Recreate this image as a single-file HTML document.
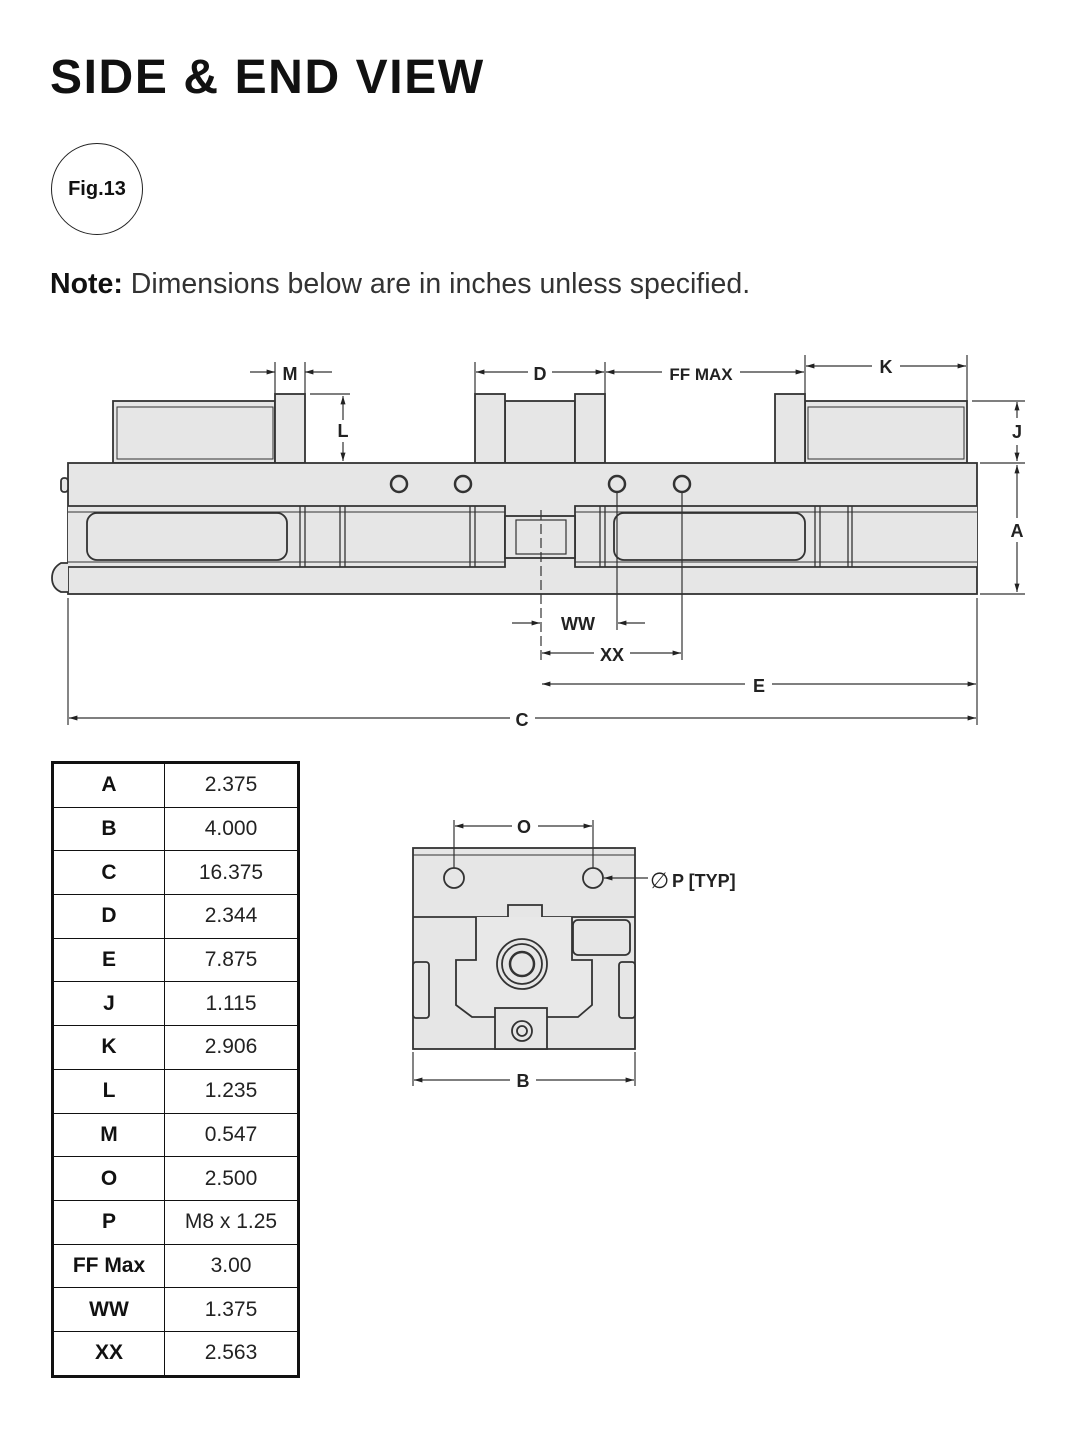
<!DOCTYPE html>
<html><head><meta charset="utf-8"><style>
body{margin:0;background:#fff;}
.wrap{position:relative;width:1067px;height:1440px;overflow:hidden;font-family:"Liberation Sans",sans-serif;}
h1{position:absolute;left:50px;top:50px;margin:0;font-size:48px;font-weight:bold;letter-spacing:1.6px;color:#111;}
.fig{position:absolute;left:51px;top:143px;width:90px;height:90px;border:1.5px solid #222;border-radius:50%;text-align:center;line-height:90px;font-size:20px;font-weight:bold;color:#111;}
.note{position:absolute;left:50px;top:268px;font-size:28.5px;color:#333;}
.note b{color:#111;}
table{position:absolute;left:51px;top:761px;border-collapse:collapse;border:3px solid #111;}
td{border:1.5px solid #111;height:42.7px;padding:0;text-align:center;font-size:21px;color:#222;}
td:first-child{width:110px;font-weight:bold;color:#111;}
td:last-child{width:132px;}
svg{position:absolute;left:0;top:0;}
</style></head><body><div class="wrap">
<h1>SIDE &amp; END VIEW</h1>
<div class="fig">Fig.13</div>
<div class="note"><b>Note:</b> Dimensions below are in inches unless specified.</div>
<svg width="1067" height="1440" viewBox="0 0 1067 1440">
<defs><marker id="a" viewBox="0 0 10 10" refX="10" refY="5" markerWidth="9" markerHeight="7" orient="auto-start-reverse"><path d="M0,2 L10,5 L0,8 z" fill="#222"/></marker></defs>
<g fill="#e6e6e6" stroke="#333" stroke-width="1.8">
<rect x="113" y="401" width="162" height="62"/><rect x="117" y="407" width="156" height="52" fill="none" stroke-width="1"/>
<rect x="275" y="394" width="30" height="69"/>
<rect x="505" y="401" width="70" height="62"/>
<rect x="475" y="394" width="30" height="69"/><rect x="575" y="394" width="30" height="69"/>
<rect x="805" y="401" width="162" height="62"/><rect x="808" y="407" width="156" height="52" fill="none" stroke-width="1"/>
<rect x="775" y="394" width="30" height="69"/>
<rect x="68" y="463" width="909" height="131"/>
<rect x="61" y="478" width="7" height="14" rx="3"/>
<path d="M68,563 L61,563 Q52,568 52,578 Q52,588 61,592 L68,592"/>
<path d="M68,506 H505 V567 H68" fill="#e6e6e6"/>
<path d="M977,506 H575 V567 H977" fill="#e6e6e6"/>
<line x1="68" y1="512" x2="505" y2="512" stroke-width="1"/><line x1="68" y1="562" x2="505" y2="562" stroke-width="1"/>
<line x1="575" y1="512" x2="977" y2="512" stroke-width="1"/><line x1="575" y1="562" x2="977" y2="562" stroke-width="1"/>
<rect x="87" y="513" width="200" height="47" rx="10"/>
<rect x="614" y="513" width="191" height="47" rx="10"/>
<g stroke-width="1.3"><line x1="300" y1="506" x2="300" y2="567"/><line x1="305" y1="506" x2="305" y2="567"/>
<line x1="340" y1="506" x2="340" y2="567"/><line x1="345" y1="506" x2="345" y2="567"/>
<line x1="470" y1="506" x2="470" y2="567"/><line x1="475" y1="506" x2="475" y2="567"/>
<line x1="600" y1="506" x2="600" y2="567"/><line x1="605" y1="506" x2="605" y2="567"/>
<line x1="815" y1="506" x2="815" y2="567"/><line x1="820" y1="506" x2="820" y2="567"/>
<line x1="848" y1="506" x2="848" y2="567"/><line x1="852" y1="506" x2="852" y2="567"/></g>
<rect x="505" y="516" width="70" height="42"/><rect x="516" y="520" width="50" height="34" stroke-width="1.2"/>
<circle cx="399" cy="484" r="8" fill="none" stroke-width="2.5"/><circle cx="463" cy="484" r="8" fill="none" stroke-width="2.5"/>
<circle cx="617" cy="484" r="8" fill="none" stroke-width="2.5"/><circle cx="682" cy="484" r="8" fill="none" stroke-width="2.5"/>
</g>
<g stroke="#333" stroke-width="1.2" fill="none">
<line x1="541" y1="510" x2="541" y2="660" stroke-dasharray="10,4"/>
<line x1="275" y1="362" x2="275" y2="394"/><line x1="305" y1="362" x2="305" y2="394"/>
<line x1="310" y1="394" x2="350" y2="394"/>
<line x1="475" y1="362" x2="475" y2="394"/><line x1="605" y1="362" x2="605" y2="394"/>
<line x1="805" y1="355" x2="805" y2="394"/><line x1="967" y1="355" x2="967" y2="401"/>
<line x1="972" y1="401" x2="1025" y2="401"/><line x1="980" y1="463" x2="1025" y2="463"/><line x1="980" y1="594" x2="1025" y2="594"/>
<line x1="617" y1="492" x2="617" y2="630"/><line x1="682" y1="492" x2="682" y2="660"/>
<line x1="68" y1="598" x2="68" y2="725"/><line x1="977" y1="598" x2="977" y2="725"/>
<line x1="250" y1="372" x2="275" y2="372" marker-end="url(#a)"/><line x1="332" y1="372" x2="305" y2="372" marker-end="url(#a)"/>
<line x1="343" y1="420" x2="343" y2="396" marker-end="url(#a)"/><line x1="343" y1="442" x2="343" y2="461" marker-end="url(#a)"/>
<line x1="528" y1="372" x2="476" y2="372" marker-end="url(#a)"/><line x1="552" y1="372" x2="604" y2="372" marker-end="url(#a)"/>
<line x1="662" y1="372" x2="606" y2="372" marker-end="url(#a)"/><line x1="740" y1="372" x2="804" y2="372" marker-end="url(#a)"/>
<line x1="872" y1="366" x2="806" y2="366" marker-end="url(#a)"/><line x1="900" y1="366" x2="966" y2="366" marker-end="url(#a)"/>
<line x1="1017" y1="418" x2="1017" y2="402" marker-end="url(#a)"/><line x1="1017" y1="445" x2="1017" y2="461" marker-end="url(#a)"/>
<line x1="1017" y1="518" x2="1017" y2="465" marker-end="url(#a)"/><line x1="1017" y1="542" x2="1017" y2="592" marker-end="url(#a)"/>
<line x1="512" y1="623" x2="540" y2="623" marker-end="url(#a)"/><line x1="645" y1="623" x2="618" y2="623" marker-end="url(#a)"/>
<line x1="594" y1="653" x2="542" y2="653" marker-end="url(#a)"/><line x1="630" y1="653" x2="681" y2="653" marker-end="url(#a)"/>
<line x1="745" y1="684" x2="542" y2="684" marker-end="url(#a)"/><line x1="772" y1="684" x2="976" y2="684" marker-end="url(#a)"/>
<line x1="510" y1="718" x2="69" y2="718" marker-end="url(#a)"/><line x1="535" y1="718" x2="976" y2="718" marker-end="url(#a)"/>
</g>
<g font-family="Liberation Sans,sans-serif" font-weight="bold" font-size="18" fill="#222" text-anchor="middle">
<text x="290" y="380">M</text><text x="343" y="437">L</text><text x="540" y="380">D</text>
<text x="701" y="380" font-size="17">FF MAX</text><text x="886" y="373">K</text>
<text x="1017" y="438">J</text><text x="1017" y="537">A</text>
<text x="578" y="630">WW</text><text x="612" y="661">XX</text><text x="759" y="692">E</text><text x="522" y="726">C</text>
</g>
<g fill="#e6e6e6" stroke="#333" stroke-width="1.8">
<rect x="413" y="848" width="222" height="201"/>
<line x1="413" y1="855" x2="635" y2="855" stroke-width="1"/>
<line x1="413" y1="917" x2="635" y2="917"/>
<circle cx="454" cy="878" r="10"/><circle cx="593" cy="878" r="10"/>
<path d="M508,917 V905 H542 V917" />
<path d="M476,917 V960 H456 V1005 L472,1017 H578 L592,1005 V960 H572 V917" fill="#e8e8e8"/>
<rect x="573" y="920" width="57" height="35" rx="5"/>
<circle cx="522" cy="964" r="25"/><circle cx="522" cy="964" r="20"/><circle cx="522" cy="964" r="12" stroke-width="2.5"/>
<rect x="495" y="1008" width="52" height="41"/><circle cx="522" cy="1031" r="10"/><circle cx="522" cy="1031" r="5"/>
<rect x="413" y="962" width="16" height="56" rx="3"/><rect x="619" y="962" width="16" height="56" rx="3"/>
</g>
<g stroke="#333" stroke-width="1.2" fill="none">
<line x1="454" y1="820" x2="454" y2="868"/><line x1="593" y1="820" x2="593" y2="868"/>
<line x1="512" y1="826" x2="455" y2="826" marker-end="url(#a)"/><line x1="538" y1="826" x2="592" y2="826" marker-end="url(#a)"/>
<line x1="413" y1="1052" x2="413" y2="1086"/><line x1="635" y1="1052" x2="635" y2="1086"/>
<line x1="510" y1="1080" x2="414" y2="1080" marker-end="url(#a)"/><line x1="536" y1="1080" x2="634" y2="1080" marker-end="url(#a)"/>
<line x1="648" y1="878" x2="604" y2="878" marker-end="url(#a)"/>
</g>
<g font-family="Liberation Sans,sans-serif" font-weight="bold" font-size="18" fill="#222" text-anchor="middle">
<text x="524" y="833">O</text><text x="523" y="1087">B</text>
<text x="650" y="888" text-anchor="start" font-weight="normal" font-size="22">∅</text>
<text x="672" y="887" text-anchor="start">P [TYP]</text>
</g>
</svg>
<table>
<tr><td>A</td><td>2.375</td></tr><tr><td>B</td><td>4.000</td></tr><tr><td>C</td><td>16.375</td></tr>
<tr><td>D</td><td>2.344</td></tr><tr><td>E</td><td>7.875</td></tr><tr><td>J</td><td>1.115</td></tr>
<tr><td>K</td><td>2.906</td></tr><tr><td>L</td><td>1.235</td></tr><tr><td>M</td><td>0.547</td></tr>
<tr><td>O</td><td>2.500</td></tr><tr><td>P</td><td>M8 x 1.25</td></tr><tr><td>FF Max</td><td>3.00</td></tr>
<tr><td>WW</td><td>1.375</td></tr><tr><td>XX</td><td>2.563</td></tr>
</table>
</div></body></html>
